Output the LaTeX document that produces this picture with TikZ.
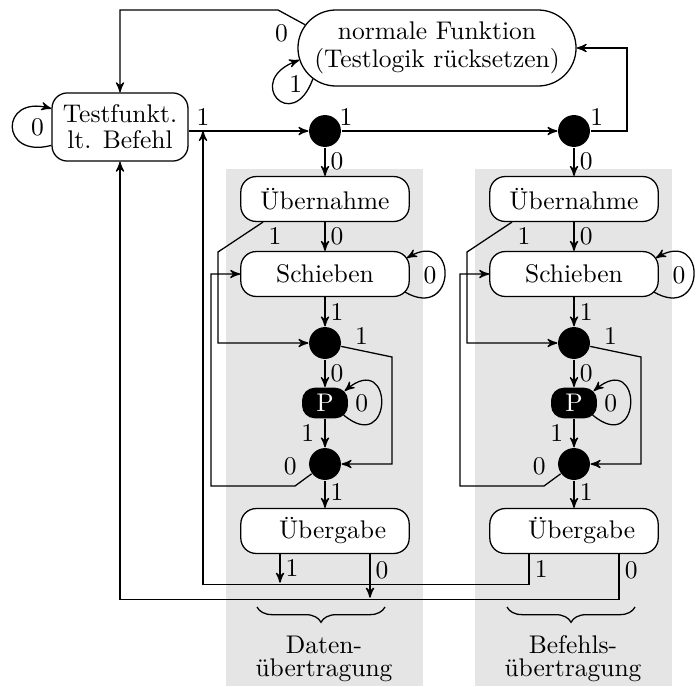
\documentclass[tikz,border=0pt]{standalone}
\usetikzlibrary{arrows,calc,shapes.misc,decorations.pathreplacing}

\begin{document}
\begin{tikzpicture}[x=0.392pt,y=0.392pt,>=stealth',inner sep=2pt,line width=0.5pt]
        \tikzstyle{zustand}=[rectangle,draw,fill=white,rounded corners=6pt,minimum width=66pt,minimum height=17.6pt]
        \tikzstyle{weiche}=[circle,fill=black,minimum size=12.5pt,inner sep=0pt]
        \tikzstyle{pausebox}=[rectangle,fill=black,text=white,rounded corners=5pt,minimum width=18pt,minimum height=12pt,inner sep=1pt]
        \tikzstyle{spalte}=[fill=black!10]
        \tikzstyle{klammer}=[decorate,decoration={brace,mirror,amplitude=6pt}]

        \useasboundingbox (0,0) rectangle (696,686);
        \fill [spalte] (226,0) rectangle (423,517); %Daten
        \fill [spalte] (475,0) rectangle (672,517); %Befehl

        \node [zustand,minimum width=53.3pt,minimum height=26.7pt,align=center] (testf) at (120,559) {Testfunkt.\\[-1.8pt]lt. Befehl};
        \node [draw,rounded rectangle,fill=white,minimum width=113pt,minimum height=29.8pt,align=center] (normal) at (437,638) {normale Funktion\\[-1pt](Testlogik rücksetzen)};
        \node [weiche] (selD) at (325,555) {};
        \node [weiche] (selB) at (574,555) {};

        \node [zustand] (uebnD) at (325,487) {Übernahme};
        \node [zustand] (schD) at (325,412) {Schieben};
        \node [weiche] (v1D) at (325,343) {};
        \node [pausebox] (pD) at (325,283) {P};
        \node [weiche] (v2D) at (325,222) {};
        \node [zustand] (uebgD) at (325,155) {\hspace*{6pt}Übergabe};

        \node [zustand] (uebnB) at (574,487) {Übernahme};
        \node [zustand] (schB) at (574,412) {Schieben};
        \node [weiche] (v1B) at (574,343) {};
        \node [pausebox] (pB) at (574,283) {P};
        \node [weiche] (v2B) at (574,222) {};
        \node [zustand] (uebgB) at (574,155) {\hspace*{6pt}Übergabe};

        \node [align=center,anchor=north,inner sep=0pt] (datTxt) at (324,51) {Daten-\\[-3pt]übertragung};
        \node [align=center,anchor=north,inner sep=0pt] (befTxt) at (573,51) {Befehls-\\[-3pt]übertragung};
        \draw [klammer] (257,79) -- (385,79);
        \draw [klammer] (507,79) -- (635,79);

        % oben
        \draw [->] (testf) to [out=195,in=165,distance=21pt] node [right=5pt] {0} (testf);
        \draw [->] (normal.194) to [out=250,in=200,distance=23.5pt] node [above right,xshift=2.5pt] {1} (normal.185);
        \draw [->] (normal.170) -- node [pos=0,left=4.5pt,yshift=-3.5pt] {0} (278,676) -| (testf);
        \draw [->] (testf.east |- selD) -- node [pos=0.12,above] {1} (selD);
        \draw [->] (selD) -- node [pos=0.02,above] {1} (selB);
        \draw [->] (selB) -- node [pos=0.17,above] {1} (627,555) |- (normal);
        \draw [->] (selD) -- node [right] {0} (uebnD);
        \draw [->] (selB) -- node [right] {0} (uebnB);

        % Daten
        \draw [->] (uebnD) -- node [right] {0} (schD);
        \draw [->] ($(uebnD.south)+(-62,0)$) -- node [pos=0,below right] {1} (218,434) |- (v1D);
        \draw [->] ([shift={(-5,-18)}]schD.east) to [out=-30,in=30,distance=23.5pt] node [left=1pt] {0} ([shift={(-3,16)}]schD.east);
        \draw [->] (schD) -- node [right] {1} (v1D);
        \draw [->] (v1D) -- node [pos=0.4,above] {1} (392,329) |- (v2D);
        \draw [->] (v1D) -- node [right] {0} (pD);
        \draw [->] ([shift={(-5,-12)}]pD.east) to [out=-40,in=40,distance=25.5pt] node [left=3pt] {0} ([shift={(-4,12)}]pD.east);
        \draw [->] (pD) -- node [left=2pt] {1} (v2D);
        \draw [->] (v2D) -- node [pos=0.55,above left] {0} (295,200) -- (211,200) |- (schD);
        \draw [->] (v2D) -- node [pos=0.4,right] {1} (uebgD);
        \draw [->] ($(uebgD.south)+(-45,0)$) -- node [right] {1} ++(0,-28.6);
        \draw [->] ($(uebgD.south)+(45,0)$) -- node [pos=0.38,right] {0} ++(0,-43.6);

        % Befehl
        \draw [->] (uebnB) -- node [right] {0} (schB);
        \draw [->] ($(uebnB.south)+(-62,0)$) -- node [pos=0,below right] {1} (467,434) |- (v1B);
        \draw [->] ([shift={(-5,-18)}]schB.east) to [out=-30,in=30,distance=23.5pt] node [left=1pt] {0} ([shift={(-3,16)}]schB.east);
        \draw [->] (schB) -- node [right] {1} (v1B);
        \draw [->] (v1B) -- node [pos=0.4,above] {1} (641,329) |- (v2B);
        \draw [->] (v1B) -- node [right] {0} (pB);
        \draw [->] ([shift={(-5,-12)}]pB.east) to [out=-40,in=40,distance=25.5pt] node [left=3pt] {0} ([shift={(-4,12)}]pB.east);
        \draw [->] (pB) -- node [left=2pt] {1} (v2B);
        \draw [->] (v2B) -- node [pos=0.55,above left] {0} (544,200) -- (460,200) |- (schB);
        \draw [->] (v2B) -- node [pos=0.4,right] {1} (uebgB);
        \draw [->] ($(uebgB.south)+(-45,0)$) -- node [right] {1} ++(0,-30.6) -| (203,555);
        \draw [->] ($(uebgB.south)+(45,0)$) -- node [pos=0.36,right] {0} ++(0,-45.6) -| (testf);
\end{tikzpicture}
\end{document}
